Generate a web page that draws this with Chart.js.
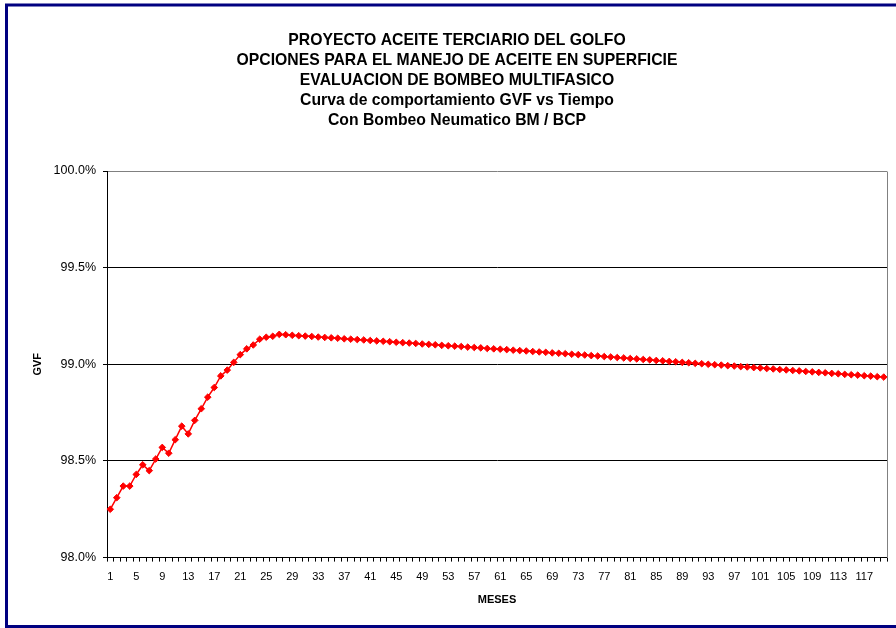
<!DOCTYPE html>
<html>
<head>
<meta charset="utf-8">
<title>GVF vs Tiempo</title>
<script src="https://cdn.jsdelivr.net/npm/chart.js@4.4.1/dist/chart.umd.min.js"></script>
<style>
  body { margin: 0; background: #ffffff; }
  #wrap { width: 896px; height: 628px; }
</style>
</head>
<body>
<div id="wrap"><canvas id="mycanvas" width="896" height="628"></canvas></div>
<script>
// titulo del grafico
var titulo = [
    "PROYECTO ACEITE TERCIARIO DEL GOLFO",
    "OPCIONES PARA EL MANEJO DE ACEITE EN SUPERFICIE",
    "EVALUACION DE BOMBEO MULTIFASICO",
    "Curva de comportamiento GVF vs Tiempo",
    "Con Bombeo Neumatico BM / BCP"
];

// GVF en % por mes (1..120)
var gvf = [
    98.25, 98.31, 98.37, 98.37, 98.43, 98.48, 98.45, 98.51, 98.57, 98.54,
    98.61, 98.68, 98.64, 98.71, 98.77, 98.83, 98.88, 98.94, 98.97, 99.01,
    99.05, 99.08, 99.10, 99.13, 99.14, 99.145, 99.155, 99.153, 99.150, 99.148,
    99.146, 99.144, 99.141, 99.139, 99.137, 99.135, 99.132, 99.130, 99.128, 99.126,
    99.123, 99.121, 99.119, 99.117, 99.114, 99.112, 99.110, 99.108, 99.105, 99.103,
    99.101, 99.098, 99.096, 99.094, 99.092, 99.089, 99.087, 99.085, 99.082, 99.080,
    99.078, 99.076, 99.073, 99.071, 99.069, 99.066, 99.064, 99.062, 99.059, 99.057,
    99.055, 99.052, 99.050, 99.048, 99.045, 99.043, 99.040, 99.038, 99.035, 99.033,
    99.030, 99.028, 99.025, 99.023, 99.020, 99.018, 99.015, 99.013, 99.010, 99.008,
    99.005, 99.003, 99.000, 98.998, 98.996, 98.993, 98.991, 98.988, 98.986, 98.983,
    98.981, 98.978, 98.976, 98.973, 98.971, 98.968, 98.966, 98.963, 98.961, 98.958,
    98.956, 98.953, 98.951, 98.948, 98.946, 98.944, 98.941, 98.939, 98.936, 98.934
];

var meses = [];
for (var i = 1; i <= gvf.length; i++) {
    meses.push(String(i));
}

var yMin = 98.0;
var yMax = 100.0;
var yPaso = 0.5;

var fuente = "'Liberation Sans', Arial, sans-serif";

// fondo blanco, borde del area de trazado y marco azul
var marco = {
    id: 'marco',
    beforeDraw: function(chart) {
        var ctx = chart.ctx;
        ctx.save();
        ctx.fillStyle = '#ffffff';
        ctx.fillRect(0, 0, chart.width, chart.height);
        ctx.restore();
    },
    afterDraw: function(chart) {
        var ctx = chart.ctx;
        var a = chart.chartArea;
        ctx.save();
        ctx.strokeStyle = '#808080';
        ctx.lineWidth = 1;
        ctx.beginPath();
        ctx.moveTo(Math.round(a.right) + 0.5, Math.round(a.top) + 0.5);
        ctx.lineTo(Math.round(a.right) + 0.5, Math.round(a.bottom));
        ctx.stroke();
        ctx.strokeStyle = '#000080';
        ctx.lineWidth = 3;
        ctx.strokeRect(6.5, 5, 900, 621.5);
        ctx.restore();
    }
};

var ctx = document.getElementById('mycanvas');
var grafico = new Chart(ctx, {
    type: 'line',
    data: {
        labels: meses,
        datasets: [
            {
                label: 'GVF',
                data: gvf,
                borderColor: '#ff0000',
                backgroundColor: '#ff0000',
                borderWidth: 1.5,
                pointStyle: 'rectRot',
                pointRadius: 3.3,
                pointBorderWidth: 1,
                tension: 0,
                fill: false
            }
        ]
    },
    options: {
        responsive: false,
        animation: false,
        layout: {
            padding: { left: 27, right: 9, top: 31, bottom: 21 }
        },
        plugins: {
            legend: { display: false },
            tooltip: { enabled: false },
            title: {
                display: true,
                text: titulo,
                color: '#000000',
                font: { family: fuente, size: 15.75, weight: 'bold', lineHeight: 1.27 },
                padding: { top: 0, bottom: 40 }
            }
        },
        scales: {
            x: {
                offset: true,
                grid: {
                    offset: true,
                    drawOnChartArea: false,
                    color: '#000000',
                    tickColor: '#000000',
                    tickLength: 4
                },
                border: { color: '#000000', width: 1 },
                ticks: {
                    autoSkip: false,
                    maxRotation: 0,
                    padding: 9,
                    color: '#000000',
                    font: { family: fuente, size: 11 },
                    callback: function(val, idx) {
                        return idx % 4 === 0 ? this.getLabelForValue(val) : '';
                    }
                },
                title: {
                    display: true,
                    text: 'MESES',
                    color: '#000000',
                    font: { family: fuente, size: 11, weight: 'bold' },
                    padding: { top: 1, bottom: 0 }
                }
            },
            y: {
                min: yMin,
                max: yMax,
                afterFit: function(scale) { scale.width = 80; },
                grid: {
                    color: function(c) {
                        return c.tick && c.tick.value === yMax ? '#808080' : '#000000';
                    },
                    tickColor: '#000000',
                    tickLength: 4
                },
                border: { color: '#000000', width: 1 },
                ticks: {
                    stepSize: yPaso,
                    padding: 7,
                    color: '#000000',
                    font: { family: fuente, size: 12.5 },
                    callback: function(v) { return v.toFixed(1) + '%'; }
                },
                title: {
                    display: true,
                    text: 'GVF',
                    color: '#000000',
                    font: { family: fuente, size: 11, weight: 'bold' },
                    padding: { top: 4, bottom: 0 }
                }
            }
        }
    },
    plugins: [marco]
});
</script>
</body>
</html>
